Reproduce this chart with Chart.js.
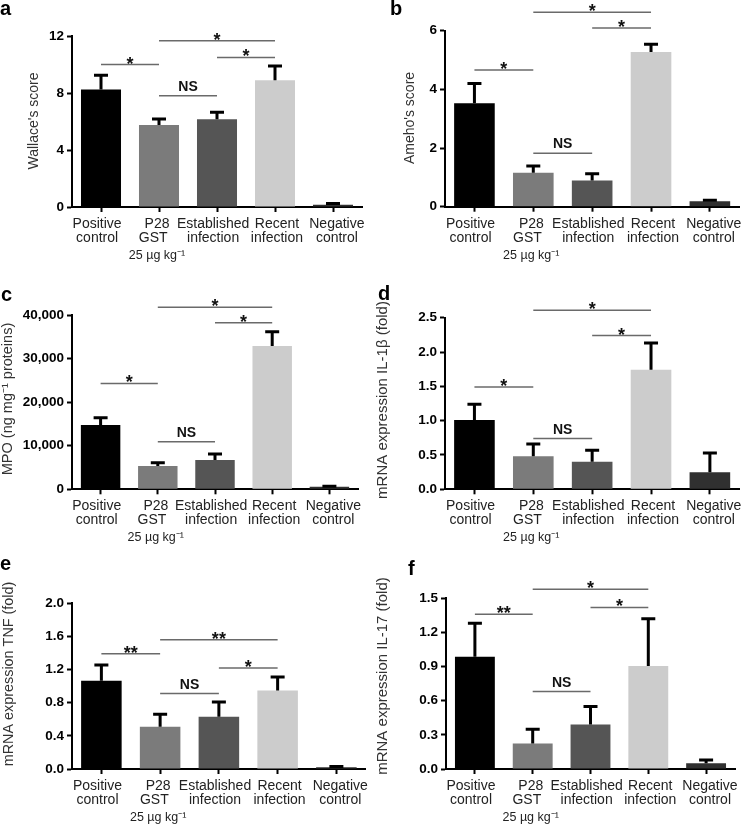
<!DOCTYPE html>
<html lang="en">
<head>
<meta charset="utf-8">
<title>P28GST colitis scores and cytokines</title>
<script src="https://cdn.jsdelivr.net/npm/chart.js@4.4.1/dist/chart.umd.min.js"></script>
<style>
  body { margin: 0; background: #fff; }
  #wrapper { position: relative; width: 747px; height: 825px; }
  .panel { position: absolute; }
</style>
</head>
<body>
<div id="wrapper">
  <div class="panel" style="left:0;top:0"><canvas id="chartA" width="373" height="275"></canvas></div>
  <div class="panel" style="left:373px;top:0"><canvas id="chartB" width="374" height="275"></canvas></div>
  <div class="panel" style="left:0;top:280px"><canvas id="chartC" width="373" height="270"></canvas></div>
  <div class="panel" style="left:373px;top:280px"><canvas id="chartD" width="374" height="270"></canvas></div>
  <div class="panel" style="left:0;top:550px"><canvas id="chartE" width="373" height="275"></canvas></div>
  <div class="panel" style="left:373px;top:550px"><canvas id="chartF" width="374" height="275"></canvas></div>
</div>
<script>
// groups on the x axis (same for every panel); spaces nudge the text like the original
const groupLabels = [['Positive  ', 'control  '], ['P28 ', 'GST   '], ['Established  ', 'infection  '], [' Recent', ' infection'], ['  Negative', '  control']];
const doseLabel = '25 \u00b5g kg\u207b\u00b9';
const barColors = ['#000000', '#7b7b7b', '#555555', '#cccccc', '#303030'];

// a - Wallace's score (mean, top of error bar)
const wallaceMean = [8.25, 5.75, 6.15, 8.9, 0.15];
const wallaceErr = [9.25, 6.18, 6.65, 9.9, 0.25];
const wallaceTicks = [0, 4, 8, 12];
const wallaceSig = [[0, 1, 10.0, '*'], [1, 2, 7.8, 'NS'], [1, 3, 11.67, '*'], [2, 3, 10.5, '*']];

// b - Ameho's score
const amehoMean = [3.53, 1.16, 0.89, 5.27, 0.19];
const amehoErr = [4.2, 1.39, 1.12, 5.54, 0.22];
const amehoTicks = [0, 2, 4, 6];
const amehoSig = [[0, 1, 4.66, '*'], [1, 2, 1.82, 'NS'], [1, 3, 6.63, '*'], [2, 3, 6.09, '*']];

// c - MPO
const mpoMean = [14750, 5340, 6720, 32900, 600];
const mpoErr = [16420, 6100, 8100, 36150, 700];
const mpoTicks = [0, 10000, 20000, 30000, 40000];
const mpoSig = [[0, 1, 24300, '*'], [1, 2, 10900, 'NS'], [1, 3, 41750, '*'], [2, 3, 38200, '*']];

// d - IL-1beta mRNA
const il1Mean = [1.01, 0.48, 0.40, 1.74, 0.25];
const il1Err = [1.24, 0.66, 0.57, 2.13, 0.53];
const il1Ticks = [0, 0.5, 1.0, 1.5, 2.0, 2.5];
const il1Sig = [[0, 1, 1.49, '*'], [1, 2, 0.74, 'NS'], [1, 3, 2.61, '*'], [2, 3, 2.24, '*']];

// e - TNF mRNA
const tnfMean = [1.066, 0.51, 0.63, 0.946, 0.02];
const tnfErr = [1.256, 0.66, 0.81, 1.11, 0.03];
const tnfTicks = [0, 0.4, 0.8, 1.2, 1.6, 2.0];
const tnfSig = [[0, 1, 1.39, '**'], [1, 2, 0.91, 'NS'], [1, 3, 1.56, '**'], [2, 3, 1.22, '*']];

// f - IL-17 mRNA
const il17Mean = [0.987, 0.225, 0.39, 0.905, 0.05];
const il17Err = [1.28, 0.35, 0.55, 1.32, 0.08];
const il17Ticks = [0, 0.3, 0.6, 0.9, 1.2, 1.5];
const il17Sig = [[0, 1, 1.36, '**'], [1, 2, 0.68, 'NS'], [1, 3, 1.58, '*'], [2, 3, 1.42, '*']];

const FONT = "'Liberation Sans', Arial, Helvetica, sans-serif";
const oneDec = v => v.toFixed(1);

const panels = [
  { id: 'chartA', letter: 'a', letterPos: [0, 15], title: "Wallace's score", titlePos: [34, 121], titleSize: 14,
    mean: wallaceMean, err: wallaceErr, ticks: wallaceTicks, sig: wallaceSig, fmt: v => String(v),
    box: { left: 72, top: 36, right: 362, bottom: 207 } },
  { id: 'chartB', letter: 'b', letterPos: [17, 15], title: "Ameho's score", titlePos: [37.5, 118], titleSize: 14,
    mean: amehoMean, err: amehoErr, ticks: amehoTicks, sig: amehoSig, fmt: v => String(v),
    box: { left: 72, top: 30.7, right: 368, bottom: 206.7 } },
  { id: 'chartC', letter: 'c', letterPos: [1, 21], title: 'MPO (ng mg\u207b\u00b9 proteins)', titlePos: [8, 119], titleSize: 14.5,
    mean: mpoMean, err: mpoErr, ticks: mpoTicks, sig: mpoSig, fmt: v => v.toLocaleString('en-US'),
    box: { left: 72, top: 35, right: 358, bottom: 209.3 } },
  { id: 'chartD', letter: 'd', letterPos: [5, 20], title: 'mRNA expression IL-1\u03b2 (fold)', titlePos: [10, 120], titleSize: 15,
    mean: il1Mean, err: il1Err, ticks: il1Ticks, sig: il1Sig, fmt: oneDec,
    box: { left: 72, top: 37.7, right: 368, bottom: 209.3 } },
  { id: 'chartE', letter: 'e', letterPos: [0, 20], title: 'mRNA expression TNF (fold)', titlePos: [9.5, 124], titleSize: 14.4,
    mean: tnfMean, err: tnfErr, ticks: tnfTicks, sig: tnfSig, fmt: oneDec,
    box: { left: 72, top: 53.3, right: 372, bottom: 219 } },
  { id: 'chartF', letter: 'f', letterPos: [35, 25], title: 'mRNA expression IL-17 (fold)', titlePos: [10, 126], titleSize: 15,
    mean: il17Mean, err: il17Err, ticks: il17Ticks, sig: il17Sig, fmt: oneDec,
    box: { left: 73, top: 48.3, right: 362, bottom: 219 } }
];

// error bars, significance brackets, axis title, panel letter, dose line
const extrasPlugin = {
  id: 'extras',
  afterDraw(chart, args, p) {
    const ctx = chart.ctx;
    const ys = chart.scales.y;
    const bars = chart.getDatasetMeta(0).data;
    ctx.save();

    // upper error bars
    ctx.strokeStyle = '#000';
    ctx.lineWidth = 3;
    p.err.forEach((e, i) => {
      const x = bars[i].x;
      const y0 = ys.getPixelForValue(p.mean[i]);
      const y1 = ys.getPixelForValue(e);
      ctx.beginPath();
      ctx.moveTo(x, y0);
      ctx.lineTo(x, y1);
      ctx.moveTo(x - 7, y1);
      ctx.lineTo(x + 7, y1);
      ctx.stroke();
    });

    // brackets with stars / NS
    ctx.textAlign = 'center';
    ctx.textBaseline = 'alphabetic';
    p.sig.forEach(([i, j, v, txt]) => {
      const y = ys.getPixelForValue(v);
      ctx.strokeStyle = '#6a6a6a';
      ctx.lineWidth = 1.5;
      ctx.beginPath();
      ctx.moveTo(bars[i].x, y);
      ctx.lineTo(bars[j].x, y);
      ctx.stroke();
      const mid = (bars[i].x + bars[j].x) / 2;
      ctx.fillStyle = '#111';
      if (txt === 'NS') {
        ctx.font = 'bold 14px ' + FONT;
        ctx.fillText(txt, mid, y - 5);
      } else {
        ctx.font = 'bold 18px ' + FONT;
        ctx.fillText(txt, mid, y + 5);
      }
    });

    // dose under P28 GST
    ctx.fillStyle = '#222';
    ctx.font = '12.5px ' + FONT;
    ctx.fillText(doseLabel, bars[1].x - 2, chart.chartArea.bottom + 52);

    // y axis title
    ctx.save();
    ctx.translate(p.titlePos[0], p.titlePos[1]);
    ctx.rotate(-Math.PI / 2);
    ctx.fillStyle = '#333';
    ctx.font = p.titleSize + 'px ' + FONT;
    ctx.textBaseline = 'middle';
    ctx.fillText(p.title, 0, 0);
    ctx.restore();

    // panel letter
    ctx.fillStyle = '#000';
    ctx.textAlign = 'left';
    ctx.font = 'bold 20px ' + FONT;
    ctx.fillText(p.letter, p.letterPos[0], p.letterPos[1]);
    ctx.restore();
  }
};

panels.forEach(p => {
  const canvas = document.getElementById(p.id);
  const W = canvas.width, H = canvas.height, b = p.box;
  new Chart(canvas, {
    type: 'bar',
    data: {
      labels: groupLabels,
      datasets: [{
        data: p.mean,
        backgroundColor: barColors,
        borderWidth: 0,
        barPercentage: 0.69,
        categoryPercentage: 1.0
      }]
    },
    options: {
      responsive: false,
      animation: false,
      layout: { padding: { left: 0, top: b.top, right: W - b.right, bottom: 0 } },
      plugins: {
        legend: { display: false },
        tooltip: { enabled: false },
        extras: p
      },
      scales: {
        x: {
          offset: true,
          afterFit: s => { s.height = H - b.bottom; },
          grid: { offset: false, drawOnChartArea: false, tickLength: 5, tickWidth: 2, tickColor: '#000' },
          border: { display: true, color: '#000', width: 2 },
          ticks: {
            color: '#222', padding: 5, maxRotation: 0, autoSkip: false,
            font: { family: FONT, size: 14, lineHeight: 1.0 }
          }
        },
        y: {
          min: p.ticks[0],
          max: p.ticks[p.ticks.length - 1],
          afterFit: s => { s.width = b.left; },
          afterBuildTicks: s => { s.ticks = p.ticks.map(v => ({ value: v })); },
          grid: { drawOnChartArea: false, tickLength: 5, tickWidth: 2, tickColor: '#000' },
          border: { display: true, color: '#000', width: 2 },
          ticks: {
            color: '#000', padding: 3,
            font: { family: FONT, size: 13.5, weight: 'bold' },
            callback: v => p.fmt(v)
          }
        }
      }
    },
    plugins: [extrasPlugin]
  });
});
</script>
</body>
</html>
